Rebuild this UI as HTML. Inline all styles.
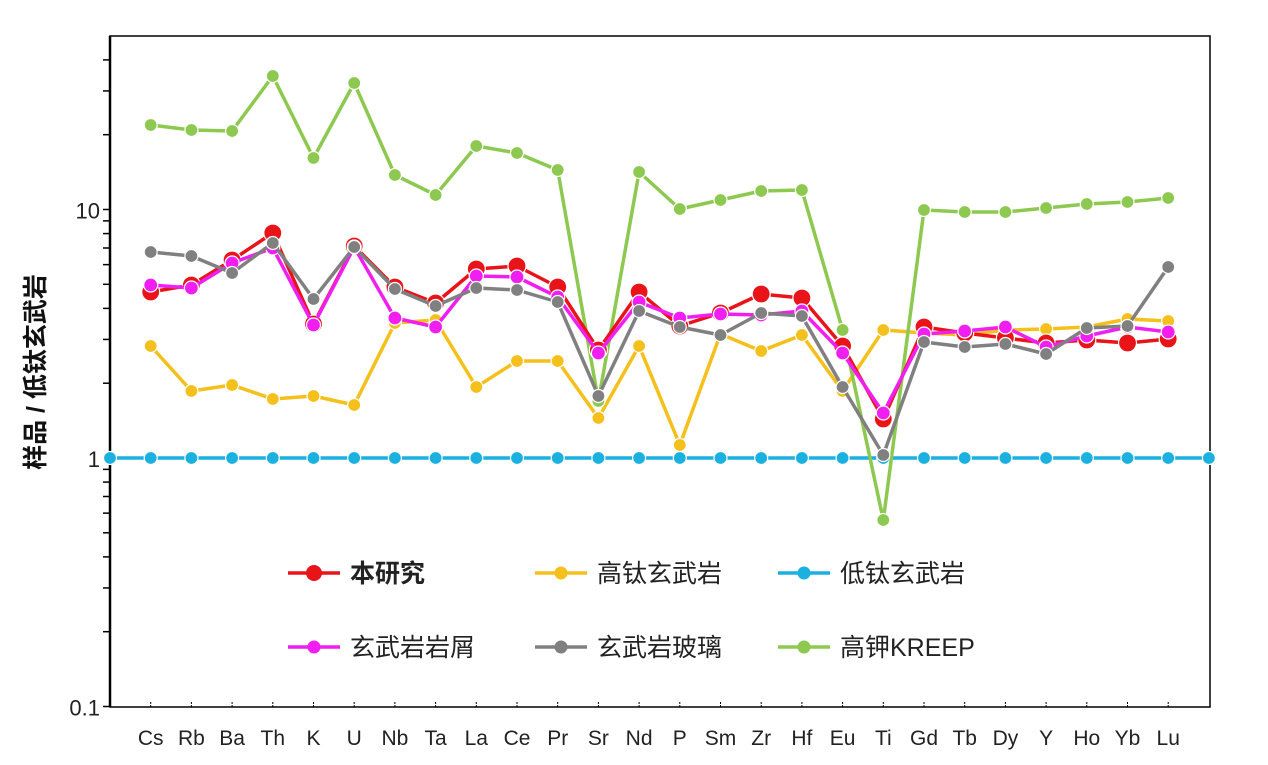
<!DOCTYPE html>
<html><head><meta charset="utf-8"><style>
html,body{margin:0;padding:0;background:#fff;}
svg{display:block;font-family:"Liberation Sans","Noto Sans CJK SC",sans-serif;}
</style></head><body>
<svg id="c" width="1268" height="765" xmlns="http://www.w3.org/2000/svg"></svg>
<script>
const s=document.getElementById('c');let h='';
const L=110,R=1210,T=36,B=707;
const yv=v=>458-Math.log10(v)*248.5;
h+=`<rect x="${L}" y="${T}" width="${R-L}" height="${B-T}" fill="none" stroke="#000" stroke-width="1.5"/>`;
h+=`<line x1="${L}" y1="${T}" x2="${L}" y2="${B}" stroke="#000" stroke-width="2.5"/>`;
for(let d=-1;d<=1;d++){for(let m=1;m<=9;m++){const v=m*Math.pow(10,d);const y=yv(v);if(y<T)continue;
h+=`<line x1="${L-7}" y1="${y}" x2="${L}" y2="${y}" stroke="#000" stroke-width="1.5"/>`;}}
h+=`<text x="100" y="${yv(10)+9}" font-size="22" text-anchor="end" fill="#222">10</text>`;
h+=`<text x="100" y="${yv(1)+9}" font-size="22" text-anchor="end" fill="#222">1</text>`;
h+=`<text x="100" y="${yv(0.1)+9}" font-size="22" text-anchor="end" fill="#222">0.1</text>`;
h+=`<text transform="translate(44,372) rotate(-90)" font-size="25" font-weight="bold" text-anchor="middle" fill="#111">样品 / 低钛玄武岩</text>`;
const el=["Cs","Rb","Ba","Th","K","U","Nb","Ta","La","Ce","Pr","Sr","Nd","P","Sm","Zr","Hf","Eu","Ti","Gd","Tb","Dy","Y","Ho","Yb","Lu"];
const X=i=>L+40.7*(i+1);
el.forEach((e,i)=>{h+=`<line x1="${X(i)}" y1="${B}" x2="${X(i)}" y2="${B-6}" stroke="#000" stroke-width="1" stroke-dasharray="2,1"/>`;
h+=`<text x="${X(i)}" y="745" font-size="21" text-anchor="middle" fill="#222">${e}</text>`;});
const S=[
["#f5bf1c",6.5,[346,391,385,399,396,405,323,320,387,361,361,418,346,445,334,351,335,391,330,333,335,330,329,327,319,321]],
["#8dc850",6.5,[125,130,131,76,158,83,175,195,146,153,170,401,172,209,200,191,190,330,520,210,212,212,208,204,202,198]],
["#e8141a",9,[292,285,260,233,324,246,287,303,269,266,287,350,292,326,313,294,298,346,419,327,333,338,343,340,343,339]],
["#f01ef0",7,[285,288,263,248,325,247,318,327,276,277,297,353,302,318,314,315,311,353,413,334,331,327,347,336,327,332]],
["#808080",6.5,[252,256,273,243,299,247,289,306,288,290,302,396,311,327,335,313,316,387,455,342,347,344,354,328,326,267]]];
let bp=[];for(let i=-1;i<=26;i++)bp.push([X(i),458]);
function ser(c,r,pts){h+=`<polyline points="${pts.map(p=>p.join(',')).join(' ')}" fill="none" stroke="${c}" stroke-width="3.5" stroke-linejoin="round"/>`;
pts.forEach(p=>{h+=`<circle cx="${p[0]}" cy="${p[1]}" r="${r}" fill="${c}" stroke="#fff" stroke-width="1.2"/>`;});}
ser("#1ab0e0",6.5,bp);
S.forEach(s2=>ser(s2[0],s2[1],s2[2].map((y,i)=>[X(i),y])));
const lg=[["#e8141a",288,573,"本研究",1],["#f5bf1c",535,573,"高钛玄武岩",0],["#1ab0e0",778,573,"低钛玄武岩",0],
["#f01ef0",288,647,"玄武岩岩屑",0],["#808080",535,647,"玄武岩玻璃",0],["#8dc850",778,647,"高钾KREEP",0]];
lg.forEach(g=>{h+=`<line x1="${g[1]}" y1="${g[2]}" x2="${g[1]+52}" y2="${g[2]}" stroke="${g[0]}" stroke-width="3.5"/><circle cx="${g[1]+26}" cy="${g[2]}" r="${g[4]?8:6.5}" fill="${g[0]}"/>`;
h+=`<text x="${g[1]+62}" y="${g[2]+9}" font-size="25" ${g[4]?'font-weight="bold"':''} fill="#222">${g[3]}</text>`;});
s.innerHTML=h;
</script>
</body></html>
